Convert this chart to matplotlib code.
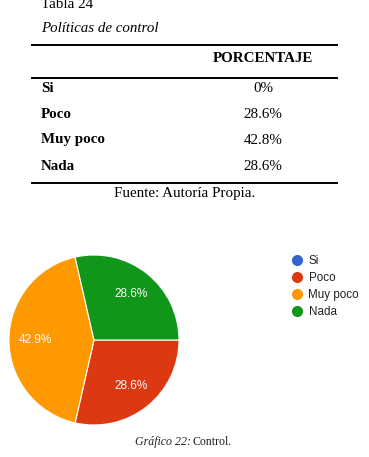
import matplotlib.pyplot as plt
from matplotlib.lines import Line2D

# table data
row_labels = ['Si', 'Poco', 'Muy poco', 'Nada']
row_values = ['0%', '28.6%', '42.8%', '28.6%']

# pie data (as shown on the chart)
categories = ['Si', 'Poco', 'Muy poco', 'Nada']
pie_values = [0.0, 28.6, 42.9, 28.6]
colors = ['#3366cc', '#dc3912', '#ff9900', '#109618']

W, H = 369, 457
serif = 'Liberation Serif'
sans = 'Liberation Sans'
fs = 10.8

fig = plt.figure(figsize=(W / 100, H / 100), dpi=100)
fig.patch.set_facecolor('white')


def fx(px):
    return px / W


def fy(py):
    return 1 - py / H


def rule(py, lw):
    fig.add_artist(Line2D([fx(32), fx(337)], [fy(py), fy(py)], color='black', lw=lw))


# table header
fig.text(fx(41), fy(5), 'Tabla 24', family=serif, fontsize=fs, va='center')
fig.text(fx(41), fy(28), 'Políticas de control', family=serif, fontsize=fs,
         style='italic', va='center')
rule(45, 1.4)
fig.text(fx(263), fy(59), 'PORCENTAJE', family=serif, fontsize=fs,
         weight='bold', ha='center', va='center')
rule(78, 1.4)

row_y = 88
for lab, val in zip(row_labels, row_values):
    fig.text(fx(41), fy(row_y), lab, family=serif, fontsize=fs,
             weight='bold', va='center')
    fig.text(fx(263), fy(row_y), val, family=serif, fontsize=fs,
             ha='center', va='center')
    row_y += 26
rule(183, 1.4)
fig.text(fx(185), fy(193), 'Fuente: Autoría Propia.', family=serif,
         fontsize=fs, ha='center', va='center')

# pie chart
cx, cy, r = 94, 340, 85
ax = fig.add_axes([fx(cx - r), fy(cy + r), fx(2 * r), 2 * r / H])
wedges, texts, autotexts = ax.pie(
    pie_values, colors=colors, startangle=0, counterclock=False,
    autopct=lambda p: '%.1f%%' % p if p > 0.5 else '',
    pctdistance=0.69, wedgeprops=dict(edgecolor='white', linewidth=0.8))
for t in autotexts:
    t.set_color('white')
    t.set_fontsize(8.5)
    t.set_family(sans)
ax.set_xlim(-1, 1)
ax.set_ylim(-1, 1)
ax.set_aspect('equal')
ax.axis('off')

# legend
handles = [Line2D([0], [0], marker='o', color='w', markerfacecolor=c,
                  markersize=8, markeredgewidth=0) for c in colors]
fig.legend(handles, categories, loc='upper left',
           bbox_to_anchor=(fx(291), fy(255)), frameon=False,
           prop={'family': sans, 'size': 8.4}, labelcolor='#222222',
           handlelength=1.0, handletextpad=0.5, labelspacing=0.44,
           borderpad=0, borderaxespad=0)

# caption
fig.text(fx(191), fy(442), 'Gráfico 22:', family=serif, fontsize=8.6,
         style='italic', ha='right', va='center', color='#222222')
fig.text(fx(192), fy(442), 'Control.', family=serif, fontsize=8.6,
         ha='left', va='center', color='#222222')

fig.savefig('out.png', dpi=100)
